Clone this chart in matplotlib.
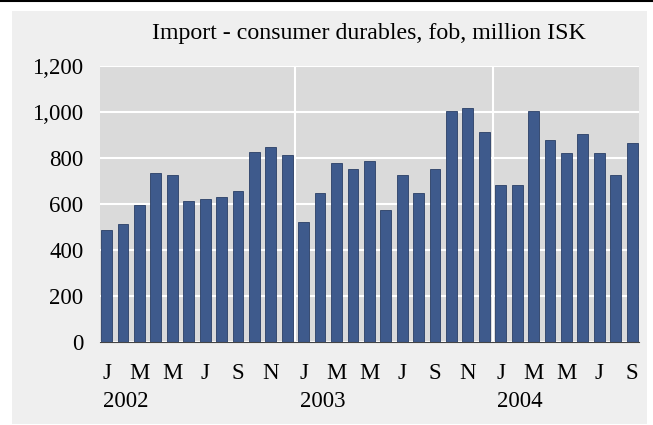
import matplotlib
matplotlib.use("Agg")
import matplotlib.pyplot as plt
from matplotlib.patches import Rectangle
from matplotlib.lines import Line2D

# monthly import of consumer durables, Jan 2002 - Sep 2004
values_2002 = [488, 512, 597, 734, 726, 615, 623, 632, 658, 828, 847, 812]
values_2003 = [521, 649, 777, 752, 786, 573, 727, 649, 752, 1006, 1016, 914]
values_2004 = [684, 684, 1006, 880, 821, 905, 821, 727, 864]
years = ["2002", "2003", "2004"]
month_letters = ["J", "F", "M", "A", "M", "J", "J", "A", "S", "O", "N", "D"]
yticks = [0, 200, 400, 600, 800, 1000, 1200]

values = values_2002 + values_2003 + values_2004
x = list(range(len(values)))

plt.rcParams['font.family'] = ['Liberation Serif', 'DejaVu Serif']

fig = plt.figure(figsize=(6.53, 4.25), dpi=100)
fig.patch.set_facecolor("white")

# outer panel and top rule
fig.add_artist(Rectangle((12/653, 1/425), 635/653, 413/425, transform=fig.transFigure,
                         facecolor="#efefef", edgecolor="none", zorder=0))
fig.add_artist(Line2D([0, 1], [1 - 1/425, 1 - 1/425], transform=fig.transFigure,
                      color="black", lw=1.5))

ax = fig.add_axes([100/653, (425-342.3)/425, 538.7/653, 276.3/425])
ax.set_facecolor("#dadada")
ax.bar(x, values, width=0.66, color="#3e5a8c", edgecolor="#2a3f66", linewidth=0.6, zorder=3)

ax.set_xlim(-0.4, len(values) - 0.6)
ax.set_ylim(0, 1200)
ax.set_yticks(yticks)
ax.set_yticklabels([f"{v:,}" for v in yticks])
ax.grid(axis="y", color="white", lw=1.5, zorder=1)
for b in [11.5, 23.5]:
    ax.axvline(b, color="white", lw=1.5, zorder=1)

for s in ["top", "right", "left"]:
    ax.spines[s].set_visible(False)
ax.spines["bottom"].set_color("#444444")
ax.spines["bottom"].set_zorder(4)

labels = [month_letters[i % 12] for i in x]
ax.set_xticks(x[::2])
ax.set_xticklabels(labels[::2])
ax.tick_params(axis="x", length=0, pad=15, labelsize=16.5)
ax.tick_params(axis="y", length=0, pad=12, labelsize=16.5)

for k, yr in enumerate(years):
    ax.text(12*k - 0.22, -59/276.3, yr, ha="left", va="center", fontsize=16.5,
            transform=ax.get_xaxis_transform(), clip_on=False)

fig.text((100 + 638.7)/2/653, 1 - 34/425, "Import - consumer durables, fob, million ISK",
         ha="center", va="center", fontsize=17.2)

fig.savefig("out.png", dpi=100)
